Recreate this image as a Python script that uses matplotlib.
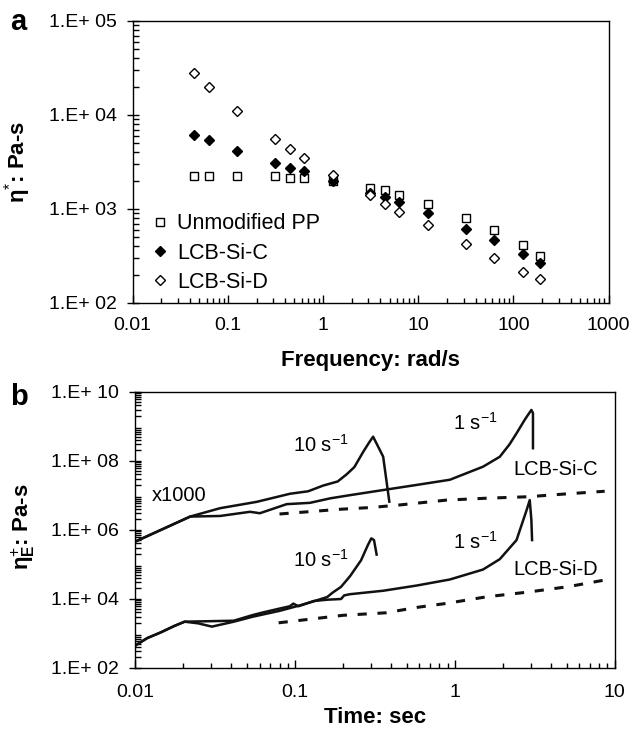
import numpy as np
import matplotlib
matplotlib.use("Agg")
import matplotlib.pyplot as plt
from matplotlib.ticker import LogLocator, FuncFormatter, NullFormatter

plt.rcParams['font.family'] = ['Liberation Sans', 'DejaVu Sans']
plt.rcParams['mathtext.fontset'] = 'custom'
plt.rcParams['mathtext.rm'] = 'Liberation Sans'
plt.rcParams['mathtext.it'] = 'Liberation Sans:italic'
plt.rcParams['mathtext.bf'] = 'Liberation Sans:bold'

# ---- panel a: complex viscosity vs frequency
freq = [0.0444, 0.0628, 0.126, 0.314, 0.444, 0.628, 1.26, 3.14, 4.44, 6.28,
        12.6, 31.4, 62.8, 126, 188]
eta_pp = [2245, 2245, 2245, 2245, 2140, 2140, 1970, 1670, 1610, 1420,
          1140, 810, 603, 417, 319]
eta_c = [6080, 5375, 4140, 3090, 2750, 2515, 2000, 1490, 1340, 1190,
         914, 613, 464, 329, 264]
eta_d = [27970, 19860, 11030, 5600, 4310, 3520, 2320, 1400, 1120, 930,
         670, 421, 303, 214, 181]
legend_labels = ['Unmodified PP', 'LCB-Si-C', 'LCB-Si-D']

# ---- panel b: transient elongational viscosity
c10_t = [0.01, 0.0221, 0.034, 0.0575, 0.093, 0.121, 0.150, 0.185, 0.21,
         0.235, 0.267, 0.29, 0.308, 0.356, 0.389]
c10_v = [4.5e5, 2.4e6, 4.2e6, 6.4e6, 1.1e7, 1.3e7, 1.9e7, 2.5e7, 4.0e7,
         6.5e7, 1.8e8, 3.3e8, 4.97e8, 1.31e8, 6.5e6]
c1_t = [0.01, 0.0221, 0.034, 0.0523, 0.0603, 0.0887, 0.124, 0.166, 0.22,
        0.356, 0.575, 0.93, 1.50, 1.91, 2.2, 2.43, 2.75, 3.01, 3.08, 3.08]
c1_v = [4.5e5, 2.4e6, 2.5e6, 3.3e6, 3.0e6, 5.5e6, 6.0e6, 8.1e6, 1.0e7,
        1.41e7, 1.98e7, 2.8e7, 6.7e7, 1.3e8, 3.0e8, 6.2e8, 1.6e9, 2.96e9,
        2.4e9, 2.3e8]
c_lve_t = [0.08, 0.12, 0.19, 0.3, 0.45, 0.885, 1.6, 2.85, 5.1, 8.65]
c_lve_v = [2.85e6, 3.3e6, 3.9e6, 4.4e6, 5.2e6, 7.2e6, 8.2e6, 9.0e6, 1.1e7, 1.3e7]

d10_t = [0.01, 0.0119, 0.0144, 0.0176, 0.0204, 0.0248, 0.0302, 0.0414,
         0.0542, 0.0802, 0.108, 0.131, 0.159, 0.172, 0.194, 0.221, 0.259,
         0.285, 0.30, 0.312, 0.324]
d10_v = [435, 720, 1045, 1622, 2154, 1930, 1550, 2154, 2990, 4450, 6450,
         8400, 11170, 1.5e4, 2.2e4, 4.5e4, 1.3e5, 3.5e5, 5.6e5, 5.0e5, 1.9e5]
d1_t = [0.01, 0.0119, 0.0144, 0.0176, 0.0204, 0.0414, 0.0542, 0.0628,
        0.0802, 0.0929, 0.0976, 0.105, 0.131, 0.159, 0.194, 0.203, 0.221,
        0.356, 0.575, 0.93, 1.50, 1.91, 2.43, 2.81, 2.94, 3.01, 3.04]
d1_v = [435, 720, 1045, 1622, 2154, 2300, 3340, 3980, 5180, 6040, 7190,
        6040, 8570, 9350, 9780, 12450, 13500, 1.7e4, 2.4e4, 3.6e4, 7.0e4,
        1.4e5, 5.0e5, 3.7e6, 7.2e6, 1.9e6, 5.0e5]
d_lve_t = [0.079, 0.12, 0.2, 0.37, 0.58, 0.885, 1.59, 2.85, 5.11, 8.65]
d_lve_v = [2000, 2500, 3300, 3900, 5600, 7300, 11400, 15500, 22300, 34700]


def exp_fmt(v, pos):
    return "1.E+ %02d" % int(round(np.log10(v)))


def style_axis(ax, xpad, ypad):
    for s in ax.spines.values():
        s.set_linewidth(1.0)
    ax.tick_params(axis='x', which='major', direction='in', length=6, width=1,
                   pad=xpad, labelsize=14)
    ax.tick_params(axis='x', which='minor', direction='in', length=3.5, width=1)
    ax.tick_params(axis='y', which='major', direction='inout', length=9, width=1,
                   pad=ypad, labelsize=14)
    ax.tick_params(axis='y', which='minor', direction='in', length=4, width=1)
    ax.xaxis.set_minor_locator(LogLocator(base=10, subs=np.arange(2, 10), numticks=20))
    ax.yaxis.set_minor_locator(LogLocator(base=10, subs=np.arange(2, 10), numticks=20))
    ax.xaxis.set_minor_formatter(NullFormatter())
    ax.yaxis.set_minor_formatter(NullFormatter())
    ax.yaxis.set_major_formatter(FuncFormatter(exp_fmt))
    ax.xaxis.set_major_formatter(FuncFormatter(lambda v, p: "%g" % v))


fig = plt.figure(figsize=(6.35, 7.29), dpi=100)

# panel a
ax1 = fig.add_axes([0.209, 0.5844, 0.7494, 0.3868])
ax1.set_xscale('log')
ax1.set_yscale('log')
ax1.plot(freq, eta_pp, ls='none', marker='s', ms=6.3, mfc='white', mec='black',
         mew=1.0, label=legend_labels[0])
ax1.plot(freq, eta_c, ls='none', marker='D', ms=5.0, mfc='black', mec='black',
         mew=1.0, label=legend_labels[1])
ax1.plot(freq, eta_d, ls='none', marker='D', ms=5.0, mfc='white', mec='black',
         mew=1.0, label=legend_labels[2])
ax1.set_xlim(0.01, 1000)
ax1.set_ylim(1e2, 1e5)
style_axis(ax1, 10, 7)
ax1.set_xticks([0.01, 0.1, 1, 10, 100, 1000])
ax1.set_yticks([1e2, 1e3, 1e4, 1e5])
ax1.set_xlabel('Frequency: rad/s', fontsize=16, fontweight='bold')
ax1.xaxis.set_label_coords(0.5, -0.167)
ax1.set_ylabel('η$^{*}$: Pa-s', fontsize=16, fontweight='bold')
ax1.yaxis.set_label_coords(-0.21, 0.5)
ax1.legend(loc='center left', bbox_to_anchor=(0.025, 0.177), frameon=False,
           fontsize=15.5, handlelength=0.6, handletextpad=0.5, labelspacing=0.38,
           borderpad=0.2, borderaxespad=0.2)

# panel b
ax2 = fig.add_axes([0.2128, 0.0841, 0.7553, 0.3786])
ax2.set_xscale('log')
ax2.set_yscale('log')
for t, v in [(c10_t, c10_v), (c1_t, c1_v), (d10_t, d10_v), (d1_t, d1_v)]:
    ax2.plot(t, v, color='#111111', lw=1.8)
for t, v in [(c_lve_t, c_lve_v), (d_lve_t, d_lve_v)]:
    ax2.plot(t, v, color='#111111', lw=2.2, ls=(0, (3, 3.5)))
ax2.set_xlim(0.01, 10)
ax2.set_ylim(1e2, 1e10)
style_axis(ax2, 12, 7)
ax2.set_xticks([0.01, 0.1, 1, 10])
ax2.set_yticks([1e2, 1e4, 1e6, 1e8, 1e10])
ax2.set_xlabel('Time: sec', fontsize=16, fontweight='bold')
ax2.xaxis.set_label_coords(0.5, -0.142)
ax2.set_ylabel('η$_{\\mathregular{E}}^{+}$: Pa-s', fontsize=16, fontweight='bold')
ax2.yaxis.set_label_coords(-0.205, 0.51)

txt = dict(fontsize=14.5, va='center', ha='left')
ax2.text(0.097, 2.8e8, '10 s$^{-1}$', **txt)
ax2.text(0.97, 1.23e9, '1 s$^{-1}$', **txt)
ax2.text(2.31, 5.4e7, 'LCB-Si-C', **txt)
ax2.text(0.0187, 1.0e7, 'x1000', fontsize=14.5, va='center', ha='center')
ax2.text(0.097, 1.32e5, '10 s$^{-1}$', **txt)
ax2.text(0.97, 4.5e5, '1 s$^{-1}$', **txt)
ax2.text(2.31, 6.8e4, 'LCB-Si-D', **txt)

fig.text(10 / 635, 1 - 30 / 729, 'a', fontsize=21, fontweight='bold', va='baseline')
fig.text(10 / 635, 1 - 405 / 729, 'b', fontsize=21, fontweight='bold', va='baseline')

fig.savefig('out.png', dpi=100)
